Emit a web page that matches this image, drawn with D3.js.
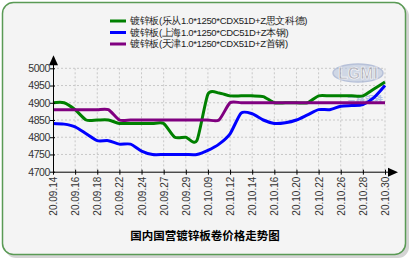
<!DOCTYPE html>
<html>
<head>
<meta charset="utf-8">
<script src="https://cdn.jsdelivr.net/npm/d3@7"></script>
<style>
  body { margin: 0; background: #fff; }
  svg { display: block; font-family: "Liberation Sans", Arial, sans-serif; }
</style>
</head>
<body>
<svg id="canvas"></svg>
<script>
// trading days, every second one gets a label
const dates = ['20.09.14', '20.09.15', '20.09.16', '20.09.17', '20.09.18', '20.09.21', '20.09.22', '20.09.23',
  '20.09.24', '20.09.25', '20.09.27', '20.09.28', '20.09.29', '20.09.30', '20.10.09', '20.10.10',
  '20.10.12', '20.10.13', '20.10.14', '20.10.15', '20.10.16', '20.10.19', '20.10.20', '20.10.21',
  '20.10.22', '20.10.23', '20.10.26', '20.10.27', '20.10.28', '20.10.29', '20.10.30'];

const seriesNames = ['镀锌板(乐从1.0*1250*CDX51D+Z思文科德)', '镀锌板(上海1.0*1250*CDC51D+Z本钢)', '镀锌板(天津1.0*1250*CDX51D+Z首钢)'];

const lecong = [4900, 4900, 4880, 4850, 4850, 4850, 4840, 4840, 4840, 4840, 4840, 4800, 4800, 4790, 4925, 4928,
  4920, 4920, 4920, 4918, 4900, 4900, 4900, 4900, 4920, 4920, 4920, 4920, 4920, 4940, 4960];
const shanghai = [4840, 4838, 4830, 4810, 4790, 4790, 4780, 4780, 4760, 4750, 4750, 4750, 4750, 4750, 4762, 4780,
  4810, 4870, 4868, 4850, 4840, 4842, 4850, 4865, 4880, 4880, 4890, 4892, 4895, 4915, 4950];
const tianjin = [4880, 4880, 4880, 4880, 4880, 4880, 4850, 4850, 4850, 4850, 4850, 4850, 4850, 4850, 4850, 4850,
  4900, 4900, 4900, 4900, 4900, 4900, 4900, 4900, 4900, 4900, 4900, 4900, 4900, 4900, 4900];

const yTicks = [4700, 4750, 4800, 4850, 4900, 4950, 5000];
const colors = ['#008000', '#0000ff', '#800080'];

const width = 415;
const height = 264;
const plotLeft = 53;
const plotRight = 385;
const plotTop = 68.3;
const plotBottom = 171.7;

let canvas = d3.select('#canvas')
  .attr('width', width)
  .attr('height', height);

// card with shadow
canvas.append('rect')
  .attr('x', 5).attr('y', 5).attr('width', 404).attr('height', 253)
  .attr('rx', 11).attr('fill', '#b8b8b8').attr('opacity', 0.6);
canvas.append('rect')
  .attr('x', 2.5).attr('y', 2.5).attr('width', 403).attr('height', 252)
  .attr('rx', 11).attr('fill', '#f4f4f4')
  .attr('stroke', '#5a9a55').attr('stroke-width', 1.5);

let xScale = d3.scaleLinear()
  .domain([0, dates.length - 1])
  .range([plotLeft, plotRight]);

let yScale = d3.scaleLinear()
  .domain([4700, 5000])
  .range([plotBottom, plotTop]);

let labelIdx = d3.range(0, dates.length, 2);

// grid
canvas.append('g')
  .selectAll('line')
  .data(labelIdx.slice(1))
  .enter()
  .append('line')
  .attr('x1', d => xScale(d)).attr('x2', d => xScale(d))
  .attr('y1', plotTop).attr('y2', plotBottom)
  .attr('stroke', '#c8c8c8').attr('stroke-dasharray', '2,2');

canvas.append('g')
  .selectAll('line')
  .data(yTicks.slice(1))
  .enter()
  .append('line')
  .attr('x1', plotLeft).attr('x2', plotRight)
  .attr('y1', d => yScale(d)).attr('y2', d => yScale(d))
  .attr('stroke', '#c8c8c8').attr('stroke-dasharray', '2,2');

// watermark
let mark = canvas.append('g').attr('opacity', 0.6);
mark.append('ellipse')
  .attr('cx', 358).attr('cy', 73).attr('rx', 25).attr('ry', 9)
  .attr('fill', '#b8c4dc').attr('stroke', '#8fa0c8').attr('stroke-width', 1.5);
mark.append('text')
  .attr('x', 358).attr('y', 79).attr('text-anchor', 'middle')
  .attr('font-size', 16).attr('font-weight', 'bold')
  .attr('fill', '#8a8a9a').attr('stroke', '#fff').attr('stroke-width', 0.6)
  .text('LGMI');
mark.append('text')
  .attr('x', 365).attr('y', 103).attr('text-anchor', 'middle')
  .attr('font-size', 9).attr('font-weight', 'bold').attr('fill', '#8aa0d8')
  .attr('font-family', 'Noto Sans CJK SC')
  .text('兰格钢铁');

// series
let line = d3.line()
  .x((d, i) => xScale(i))
  .y(d => yScale(d))
  .curve(d3.curveCardinal.tension(0.3));

[lecong, shanghai, tianjin].forEach((values, k) => {
  canvas.append('path')
    .datum(values)
    .attr('d', line)
    .attr('fill', 'none')
    .attr('stroke', colors[k])
    .attr('stroke-width', 3)
    .attr('stroke-linejoin', 'round');
});

// axes
let xAxis = d3.axisBottom(xScale)
  .tickValues(labelIdx)
  .tickSize(3)
  .tickFormat(i => dates[i]);

let gx = canvas.append('g')
  .attr('transform', `translate(0, ${plotBottom})`)
  .call(xAxis);
gx.select('.domain').attr('d', `M${plotLeft},0.5H${plotRight + 3}`).attr('stroke', '#000');
gx.selectAll('.tick line').attr('y1', -2).attr('stroke', '#000');
gx.selectAll('.tick text')
  .attr('transform', 'rotate(-90)')
  .attr('text-anchor', 'end')
  .attr('x', -5).attr('y', 0).attr('dy', '0.35em')
  .attr('font-size', 10).attr('fill', '#333');

let yAxis = d3.axisLeft(yScale)
  .tickValues(yTicks)
  .tickFormat(d3.format('d'))
  .tickSize(3);

let gy = canvas.append('g')
  .attr('transform', `translate(${plotLeft}, 0)`)
  .call(yAxis);
gy.select('.domain').attr('d', `M0.5,${plotBottom}V${plotTop - 5}`).attr('stroke', '#000');
gy.selectAll('.tick line').attr('x2', -3).attr('x1', 2).attr('stroke', '#000');
gy.selectAll('.tick text').attr('x', -3).attr('font-size', 10.5).attr('fill', '#333')
  .attr('letter-spacing', -0.4);

// arrows
canvas.append('path')
  .attr('d', `M${plotLeft + 0.5},${plotTop - 13}l-4.5,10h9z`).attr('fill', '#000');
canvas.append('path')
  .attr('d', `M${plotRight + 13},${plotBottom + 0.5}l-10,-4.5v9z`).attr('fill', '#000');

// legend
let legend = canvas.append('g');
seriesNames.forEach((name, k) => {
  let y = 21 + k * 11.5;
  legend.append('line')
    .attr('x1', 110).attr('x2', 126).attr('y1', y).attr('y2', y)
    .attr('stroke', colors[k]).attr('stroke-width', 3);
  legend.append('text')
    .attr('x', 130).attr('y', y).attr('dy', '0.35em')
    .attr('font-size', 9.5).attr('fill', '#222')
    .attr('letter-spacing', -0.35)
    .text(name);
});

// title
canvas.append('text')
  .attr('x', 205).attr('y', 240).attr('text-anchor', 'middle')
  .attr('font-size', 11.5).attr('font-weight', 'bold').attr('fill', '#000')
  .attr('font-family', '"Noto Sans CJK SC", sans-serif')
  .text('国内国营镀锌板卷价格走势图');
</script>
</body>
</html>
